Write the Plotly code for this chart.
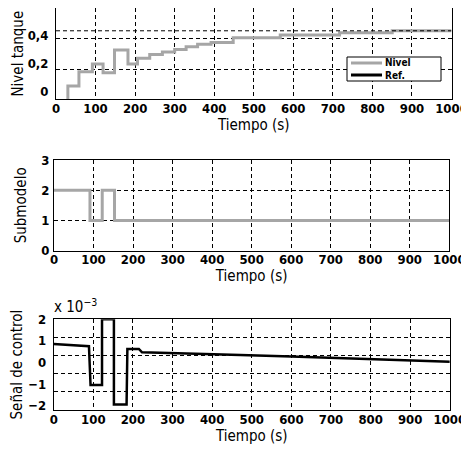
import plotly.graph_objects as go

# ---------------- data ----------------
# Top: tank level (step-wise), time in s
level_t = [30, 30, 58, 92, 119, 148, 182, 206, 237, 269, 300, 329, 358, 392, 448, 567, 717, 850, 1000]
level_v = [-0.06, 0.038, 0.14, 0.195, 0.133, 0.295, 0.195, 0.236, 0.264, 0.281, 0.30, 0.319, 0.336,
           0.35, 0.383, 0.402, 0.419, 0.433, 0.433]
ref_t = [0, 1000]
ref_v = [0.433, 0.433]

# Middle: active submodel
sub_t = [0, 91, 122, 153, 1000]
sub_v = [2, 1, 2, 1, 1]

# Bottom: control signal (x 10^-3)
ctrl_t = [0, 89, 93, 122, 122, 152, 152, 184, 186, 215, 223, 300, 417, 471, 600, 697, 800, 900, 1000]
ctrl_v = [0.86, 0.75, -1.04, -1.04, 2.0, 2.0, -1.94, -1.94, 0.63, 0.63, 0.47, 0.44, 0.39, 0.35,
          0.28, 0.22, 0.16, 0.10, 0.04]

x_ticks = list(range(0, 1001, 100))
level_ticks = [0, 0.2, 0.4]
sub_ticks = [0, 1, 2, 3]
ctrl_ticks = [-2, -1, 0, 1, 2]
legend_names = ["Nivel", "Ref."]

FONT = "DejaVu Sans Condensed, DejaVu Sans, sans-serif"
GRAY = "#a6a6a6"

# the page body has an 8px margin: the figure starts 8px in, and fills the rest of the window
OFF = 8
W, H = 469 - OFF, 453 - OFF


def xp(px):
    return min(1.0, max(0.0, (px - OFF) / W))


def yp(py):
    return min(1.0, max(0.0, 1 - (py - OFF) / H))


def ydom(top, bottom):
    return [yp(bottom), yp(top)]


def xdom(left, right):
    return [xp(left), xp(right)]


fig = go.Figure()
fig.add_trace(go.Scatter(x=level_t, y=level_v, mode="lines", line=dict(color=GRAY, width=3, shape="hv"),
                         name=legend_names[0], xaxis="x", yaxis="y"))
fig.add_trace(go.Scatter(x=ref_t, y=ref_v, mode="lines", line=dict(color="black", width=1, dash="4px,3px"),
                         name=legend_names[1], xaxis="x", yaxis="y"))
fig.add_trace(go.Scatter(x=sub_t, y=sub_v, mode="lines", line=dict(color=GRAY, width=3, shape="hv"),
                         name="Submodelo", xaxis="x2", yaxis="y2"))
fig.add_trace(go.Scatter(x=ctrl_t, y=ctrl_v, mode="lines", line=dict(color="black", width=2.5),
                         name="Señal de control", xaxis="x3", yaxis="y3"))

tickfont = dict(family=FONT, size=13, color="black", weight="bold")
titlefont = dict(family=FONT, size=15, color="black")
grid = dict(showgrid=True, gridcolor="black", gridwidth=1, griddash="4px,3px")

common_x = dict(range=[0, 1000], tickvals=x_ticks, showline=True, linecolor="black", linewidth=1,
                mirror=True, ticks="", tickfont=tickfont, zeroline=False, ticklabeloverflow="allow",
                ticklabelstandoff=-3,
                title=dict(text="Tiempo (s)", font=titlefont, standoff=1), **grid)

# compact legend (box, line samples, labels)
lg_x0, lg_x1, lg_y0, lg_y1 = 347, 441, 57, 81
legfont = dict(family=FONT, size=10, color="black", weight="bold")
shapes = [
    dict(type="rect", xref="paper", yref="paper", x0=xp(lg_x0), x1=xp(lg_x1),
         y0=yp(lg_y1), y1=yp(lg_y0), line=dict(color="black", width=1),
         fillcolor="white", layer="above"),
    dict(type="line", xref="paper", yref="paper", x0=xp(351), x1=xp(382), y0=yp(63), y1=yp(63),
         line=dict(color=GRAY, width=3), layer="above"),
    dict(type="line", xref="paper", yref="paper", x0=xp(351), x1=xp(382), y0=yp(75), y1=yp(75),
         line=dict(color="black", width=3), layer="above"),
]
annotations = [
    dict(text=legend_names[0], xref="paper", yref="paper", x=xp(384), y=yp(62.5), xanchor="left",
         yanchor="middle", showarrow=False, font=legfont, borderpad=0),
    dict(text=legend_names[1], xref="paper", yref="paper", x=xp(384), y=yp(75.5), xanchor="left",
         yanchor="middle", showarrow=False, font=legfont, borderpad=0),
    dict(text="x 10<sup>−3</sup>", xref="paper", yref="paper", x=xp(52), y=yp(318),
         xanchor="left", yanchor="bottom", showarrow=False,
         font=dict(family=FONT, size=15, color="black")),
]

fig.update_layout(
    width=W, height=H, margin=dict(l=0, r=0, t=0, b=0, autoexpand=False),
    paper_bgcolor="white", plot_bgcolor="white",
    separators=",.", showlegend=False,
    xaxis=dict(domain=xdom(56, 451.5), anchor="y", **common_x),
    yaxis=dict(domain=ydom(8, 99.3), anchor="x", range=[-0.057, 0.596], tickvals=level_ticks,
               showline=True, linecolor="black", mirror=True, ticks="", tickfont=tickfont,
               zeroline=False, showgrid=False, ticklabelstandoff=4,
               minor=dict(tick0=0.159, dtick=0.22, showgrid=True, gridcolor="black", gridwidth=1,
                          griddash="4px,3px", ticks=""),
               title=dict(text="Nivel tanque", font=titlefont, standoff=0)),
    xaxis2=dict(domain=xdom(54, 449.3), anchor="y2", **common_x),
    yaxis2=dict(domain=ydom(160, 250.7), anchor="x2", range=[0, 3], tickvals=sub_ticks,
                showline=True, linecolor="black", mirror=True, ticks="", tickfont=tickfont,
                zeroline=False, ticklabelstandoff=1, **grid,
                title=dict(text="Submodelo", font=titlefont, standoff=11)),
    xaxis3=dict(domain=xdom(53.7, 449.8), anchor="y3", **common_x),
    yaxis3=dict(domain=ydom(319.3, 410), anchor="x3", range=[-2.2, 2.0], tickvals=ctrl_ticks,
                showline=True, linecolor="black", mirror=True, ticks="", tickfont=tickfont,
                zeroline=False, showgrid=False, ticklabelstandoff=4,
                minor=dict(tick0=-2.2, dtick=0.84, showgrid=True, gridcolor="black", gridwidth=1,
                           griddash="4px,3px", ticks=""),
                title=dict(text="Señal de control", font=titlefont, standoff=1)),
    shapes=shapes,
    annotations=annotations,
)

fig.write_html("out.html")
